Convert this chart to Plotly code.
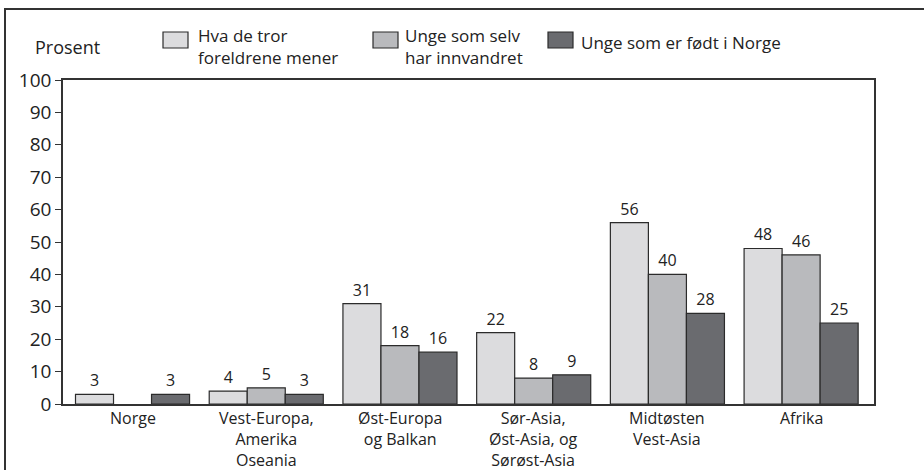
import plotly.graph_objects as go

categories = ["Norge", "Vest-Europa,<br>Amerika<br>Oseania", "Øst-Europa<br>og Balkan",
              "Sør-Asia,<br>Øst-Asia, og<br>Sørøst-Asia", "Midtøsten<br>Vest-Asia", "Afrika"]
series_names = ["Hva de tror<br>foreldrene mener", "Unge som selv<br>har innvandret", "Unge som er født i Norge"]
foreldre = [3, 4, 31, 22, 56, 48]
innvandret = [None, 5, 18, 8, 40, 46]
fodt_norge = [3, 3, 16, 9, 28, 25]
y_ticks = [0, 10, 20, 30, 40, 50, 60, 70, 80, 90, 100]

colors = ["#dcdcde", "#b9babd", "#6a6b6f"]
values = [foreldre, innvandret, fodt_norge]

FONT = "Open Sans"
TXT = "#222"
W, H = 924, 470
ML, MR, MT, MB = 63, 50, 80, 66

fig = go.Figure()
for name, vals, col in zip(series_names, values, colors):
    fig.add_trace(go.Bar(
        x=list(range(len(categories))), y=vals, name=name.replace("<br>", " "),
        marker=dict(color=col, line=dict(color="#2b2b2b", width=1.2)),
        text=[("" if v is None else str(v)) for v in vals],
        textposition="outside", cliponaxis=False,
        textfont=dict(family=FONT, size=16, color=TXT),
        showlegend=False,
    ))

pw = W - ML - MR
ph = H - MT - MB
def px_x(p):
    return (p - ML) / pw
def px_y(p):
    return (H - MB - p) / ph

annotations = []
shapes = []

# category labels (x placed on the category axis)
for i, cat in enumerate(categories):
    annotations.append(dict(
        text=cat, xref="x", yref="paper", x=i, y=px_y(406),
        xanchor="center", yanchor="top", align="center", showarrow=False,
        borderpad=0, font=dict(family=FONT, size=16, color=TXT),
    ))

# legend (boxes + text)
leg_box_x = [163, 373, 548]
leg_text_x = [196, 403, 579]
leg_box_y = (32, 48)
leg_text_top = [22, 22, 29]
for k, name in enumerate(series_names):
    shapes.append(dict(
        type="rect", xref="paper", yref="paper",
        x0=px_x(leg_box_x[k]), x1=px_x(leg_box_x[k] + 25),
        y0=px_y(leg_box_y[1]), y1=px_y(leg_box_y[0]),
        fillcolor=colors[k], line=dict(color="#2b2b2b", width=1.2),
    ))
    annotations.append(dict(
        text=name, xref="paper", yref="paper", align="left",
        x=px_x(leg_text_x[k]), y=px_y(leg_text_top[k]),
        xanchor="left", yanchor="top", showarrow=False,
        font=dict(family=FONT, size=17, color=TXT),
    ))

annotations.append(dict(
    text="Prosent", xref="paper", yref="paper",
    x=px_x(33), y=px_y(47), xanchor="left", yanchor="middle",
    showarrow=False, font=dict(family=FONT, size=18, color=TXT),
))

# outer frame (left and top edges visible)
shapes.append(dict(
    type="path", xref="paper", yref="paper",
    path=f"M {px_x(5)},{px_y(480)} L {px_x(5)},{px_y(9)} L {px_x(930)},{px_y(9)}",
    line=dict(color="#333", width=2),
))

fig.update_layout(
    width=W, height=H,
    margin=dict(l=ML, r=MR, t=MT, b=MB, pad=0, autoexpand=False),
    paper_bgcolor="white", plot_bgcolor="white",
    barmode="group", bargap=0.147, bargroupgap=0,
    showlegend=False,
    xaxis=dict(
        range=[-0.52, 5.545], tickmode="array",
        tickvals=list(range(len(categories))), showticklabels=False,
        ticks="", showline=True, linecolor="#333", linewidth=1.5, mirror=True,
        showgrid=False, zeroline=False, automargin=False,
    ),
    yaxis=dict(
        range=[0, 100], tickmode="array", tickvals=y_ticks,
        ticks="outside", ticklen=6, tickcolor="#333", tickwidth=1.2,
        showline=True, linecolor="#333", linewidth=1.5, mirror=True,
        showgrid=False, zeroline=False, automargin=False,
        tickfont=dict(family=FONT, size=19, color=TXT),
    ),
    annotations=annotations,
    shapes=shapes,
)

fig.write_html("out.html", config={"displayModeBar": False},
               post_script="document.body.style.margin='0px';")
